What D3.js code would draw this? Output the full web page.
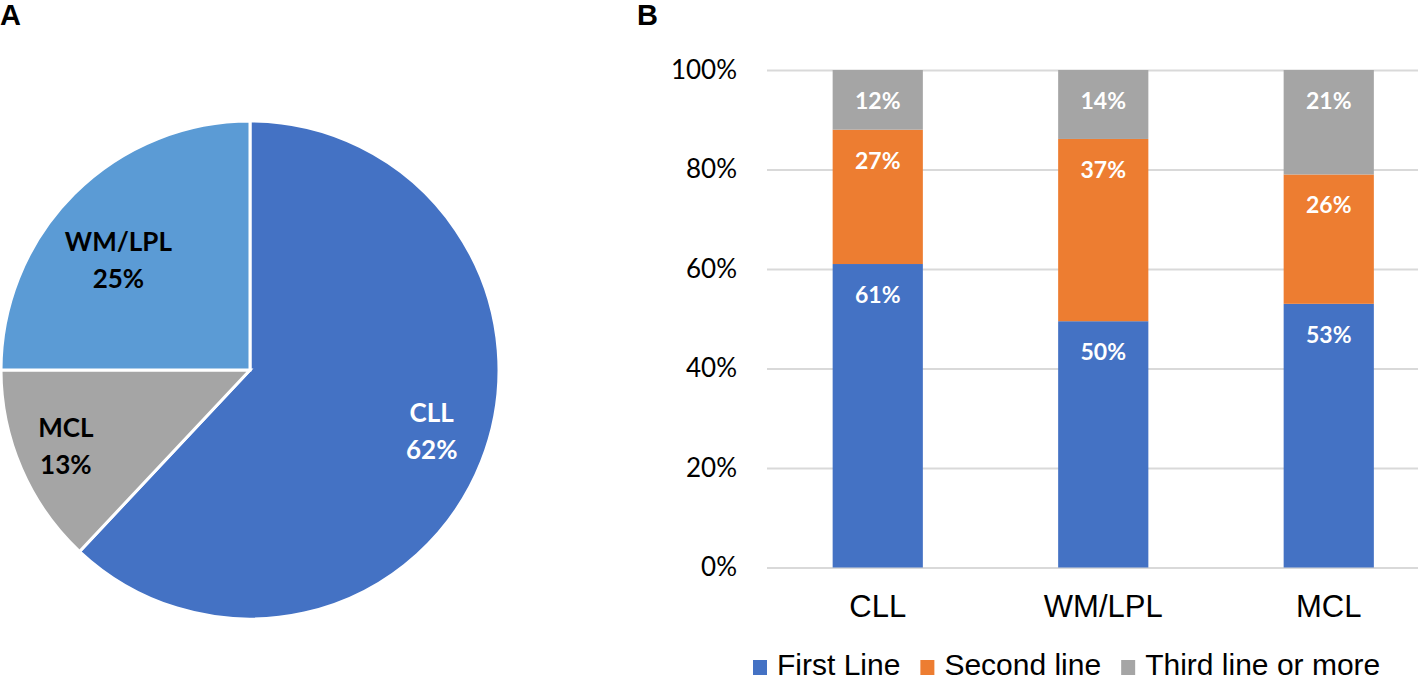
<!DOCTYPE html>
<html>
<head>
<meta charset="utf-8">
<script src="https://cdn.jsdelivr.net/npm/d3@7"></script>
<style>
  html, body { margin: 0; padding: 0; background: #fff; }
  svg { display: block; }
</style>
</head>
<body>
<svg id="chart" width="1418" height="684"></svg>
<script>
// ---- Data ----
const pieCategories = ["CLL", "MCL", "WM/LPL"];
const pieValues = [62, 13, 25];
const pieColors = ["#4472C4", "#A5A5A5", "#5B9BD5"];
const pieLabelColors = ["#ffffff", "#000000", "#000000"];
const pieLabelRadius = [0.77, 0.80, 0.69];
const pieLabelAngleShift = [-3, 1, -5]; // degrees

const barCategories = ["CLL", "WM/LPL", "MCL"];
const seriesNames = ["First Line", "Second line", "Third line or more"];
const firstLine = [61, 50, 53];
const secondLine = [27, 37, 26];
const thirdLine = [12, 14, 21];
const seriesColors = ["#4472C4", "#ED7D31", "#A5A5A5"];
const yTicks = [0, 0.2, 0.4, 0.6, 0.8, 1.0];

const svg = d3.select("#chart");
svg.append("rect").attr("width", 1418).attr("height", 684).attr("fill", "#fff");

// Panel letters
svg.append("text").attr("x", 0).attr("y", 25).text("A")
  .attr("font-family", "Liberation Sans, Arial, sans-serif").attr("font-weight", "bold").attr("font-size", 29);
svg.append("text").attr("x", 637).attr("y", 25).text("B")
  .attr("font-family", "Liberation Sans, Arial, sans-serif").attr("font-weight", "bold").attr("font-size", 29);

// ---- Pie ----
const cx = 250, cy = 370, R = 249;
const pieData = pieCategories.map((c, i) => ({ cat: c, value: pieValues[i], i }));
const pie = d3.pie().sort(null).value(d => d.value).startAngle(0).endAngle(2 * Math.PI);
const arcs = pie(pieData);
const arc = d3.arc().innerRadius(0).outerRadius(R);
const gPie = svg.append("g").attr("transform", `translate(${cx},${cy})`);
gPie.selectAll("path").data(arcs).join("path")
  .attr("d", arc)
  .attr("fill", d => pieColors[d.data.i])
  .attr("stroke", "#fff").attr("stroke-width", 3).attr("stroke-linejoin", "miter");

const pieLabels = gPie.selectAll("g.lbl").data(arcs).join("g").attr("class", "lbl")
  .attr("transform", d => {
    const r = R * pieLabelRadius[d.data.i];
    const a = (d.startAngle + d.endAngle) / 2 + pieLabelAngleShift[d.data.i] * Math.PI / 180;
    return `translate(${r * Math.sin(a)},${-r * Math.cos(a)})`;
  });
pieLabels.append("text").attr("text-anchor", "middle").attr("y", -9)
  .attr("font-family", "Lato, sans-serif").attr("font-weight", "bold").attr("font-size", 26)
  .attr("fill", d => pieLabelColors[d.data.i]).text(d => d.data.cat);
pieLabels.append("text").attr("text-anchor", "middle").attr("y", 28)
  .attr("font-family", "Lato, sans-serif").attr("font-weight", "bold").attr("font-size", 26)
  .attr("fill", d => pieLabelColors[d.data.i]).text(d => d.data.value + "%");

// ---- Stacked 100% bars ----
const rows = barCategories.map((c, i) => ({ cat: c, s0: firstLine[i], s1: secondLine[i], s2: thirdLine[i] }));
const stack = d3.stack().keys(["s0", "s1", "s2"]).offset(d3.stackOffsetExpand);
const stacked = stack(rows);

const x = d3.scaleBand().domain(barCategories).range([765, 1441.5]).paddingInner(0.6).paddingOuter(0.3);
const y = d3.scaleLinear().domain([0, 1]).range([567.5, 70]);

// gridlines + y labels
const yAxis = d3.axisLeft(y).tickValues(yTicks).tickFormat(d3.format(".0%")).tickSize(-(1418 - 767)).tickPadding(30);
const gy = svg.append("g").attr("transform", "translate(767,0)").call(yAxis);
gy.select(".domain").remove();
gy.selectAll(".tick line").attr("stroke", "#d9d9d9").attr("stroke-width", 2);
gy.selectAll(".tick text").attr("font-family", "Lato, sans-serif").attr("font-size", 26).attr("fill", "#000");

const gBars = svg.append("g");
stacked.forEach((layer, k) => {
  gBars.append("g").selectAll("rect").data(layer).join("rect")
    .attr("x", d => x(d.data.cat))
    .attr("width", x.bandwidth())
    .attr("y", d => y(d[1]))
    .attr("height", d => y(d[0]) - y(d[1]))
    .attr("fill", seriesColors[k]);
  gBars.append("g").selectAll("text").data(layer).join("text")
    .attr("x", d => x(d.data.cat) + x.bandwidth() / 2)
    .attr("y", d => y(d[1]) + 39)
    .attr("text-anchor", "middle")
    .attr("font-family", "Lato, sans-serif").attr("font-weight", "bold").attr("font-size", 23)
    .attr("fill", "#fff")
    .text(d => d.data["s" + k] + "%");
});

// x axis labels
const xAxis = d3.axisBottom(x).tickSize(0).tickPadding(0);
const gx = svg.append("g").attr("transform", "translate(0,617)").call(xAxis);
gx.select(".domain").remove();
gx.selectAll(".tick text").attr("dy", 0).attr("y", 0)
  .attr("font-family", "Liberation Sans, Arial, sans-serif").attr("font-size", 31).attr("fill", "#000");

// legend
const gLeg = svg.append("g");
let lx = 753;
seriesNames.forEach((name, k) => {
  gLeg.append("rect").attr("x", lx).attr("y", 660).attr("width", 14).attr("height", 15).attr("fill", seriesColors[k]);
  const t = gLeg.append("text").attr("x", lx + 24).attr("y", 675)
    .attr("font-family", "Liberation Sans, Arial, sans-serif").attr("font-size", 30).attr("fill", "#000")
    .text(name);
  lx = lx + 24 + t.node().getComputedTextLength() + 20;
});
</script>
</body>
</html>
